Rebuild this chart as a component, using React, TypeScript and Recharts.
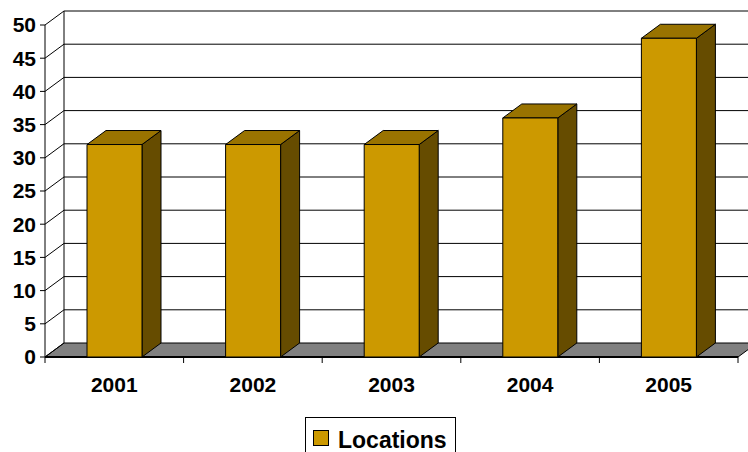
import { BarChart, Bar, XAxis, YAxis, CartesianGrid, Legend } from 'recharts'

const years = ['2001', '2002', '2003', '2004', '2005']
const locations = [32, 32, 32, 36, 48]
const yTicks = [0, 5, 10, 15, 20, 25, 30, 35, 40, 45, 50]

const data = years.map((year, i) => ({ year, locations: locations[i] }))

const FONT = '"Liberation Sans", Arial, sans-serif'
// 3D depth offset of the back wall
const DX = 19
const DY = -14

const FRONT = '#CC9900'
const TOP = '#997300'
const SIDE = '#664C00'

// Box shaped bar: front face, top and right side
const Bar3D = (props: any) => {
  const { x, y, width, height } = props
  if (height == null || width == null) return null
  return (
    <g stroke="#000" strokeWidth={1} strokeLinejoin="round">
      <polygon
        points={`${x + width},${y} ${x + width + DX},${y + DY} ${x + width + DX},${y + height + DY} ${x + width},${y + height}`}
        fill={SIDE}
      />
      <polygon
        points={`${x},${y} ${x + DX},${y + DY} ${x + width + DX},${y + DY} ${x + width},${y}`}
        fill={TOP}
      />
      <rect x={x} y={y} width={width} height={height} fill={FRONT} />
    </g>
  )
}

// Grid lines drawn on the back wall, with the floor at the bottom one
const GridLine3D = (props: any) => {
  const { x1, x2, y1, index, horizontalPoints } = props
  const pts: number[] = horizontalPoints || [y1]
  const bottom = Math.max(...pts)
  const top = Math.min(...pts)
  const isFloor = y1 === bottom
  const n = years.length
  return (
    <g key={`g-${index}`}>
      {isFloor && (
        <g>
          <line x1={x1 + DX} y1={top + DY} x2={x1 + DX} y2={bottom + DY} stroke="#000" strokeWidth={1} />
          <polygon
            points={`${x1},${y1} ${x2},${y1} ${x2 + DX},${y1 + DY} ${x1 + DX},${y1 + DY}`}
            fill="#808080"
            stroke="#000"
            strokeWidth={1}
          />
          <line x1={x1} y1={y1} x2={x2} y2={y1} stroke="#000" strokeWidth={2} />
          {Array.from({ length: n + 1 }, (_, i) => {
            const tx = x1 + (i * (x2 - x1)) / n
            return <line key={i} x1={tx} y1={y1} x2={tx} y2={y1 + 6} stroke="#000" strokeWidth={1} />
          })}
        </g>
      )}
      {!isFloor && (
        <line x1={x1 + DX} y1={y1 + DY} x2={x2 + DX} y2={y1 + DY} stroke="#000" strokeWidth={1} />
      )}
      <line x1={x1} y1={y1} x2={x1 + DX} y2={y1 + DY} stroke="#000" strokeWidth={1} />
    </g>
  )
}

const LegendBox = () => (
  <div
    style={{
      border: '1px solid #000',
      background: '#fff',
      height: 40,
      boxSizing: 'border-box',
      display: 'flex',
      alignItems: 'flex-start',
      paddingLeft: 7,
      paddingRight: 7,
      paddingTop: 12,
      fontFamily: FONT,
      fontWeight: 'bold',
      fontSize: 23,
      lineHeight: '18px',
    }}
  >
    <span
      style={{
        display: 'inline-block',
        width: 16,
        height: 16,
        boxSizing: 'border-box',
        background: FRONT,
        border: '1px solid #000',
        marginRight: 9,
      }}
    />
    <span style={{ color: '#000', position: 'relative', top: 1 }}>Locations</span>
  </div>
)

export default function App() {
  return (
    <div style={{ position: 'absolute', left: 0, top: 0, width: 748, height: 452, background: '#fff' }}>
      <BarChart
        width={748}
        height={452}
        data={data}
        margin={{ top: 25, right: 10, left: 0, bottom: 55 }}
        style={{ fontFamily: FONT }}
      >
        <CartesianGrid vertical={false} horizontal={GridLine3D} />
        <XAxis
          dataKey="year"
          axisLine={false}
          tickLine={false}
          tickSize={0}
          tickMargin={20}
          height={40}
          tick={{ fill: '#000', fontSize: 21, fontWeight: 'bold', fontFamily: FONT }}
        />
        <YAxis
          domain={[0, 50]}
          ticks={yTicks}
          width={45}
          axisLine={{ stroke: '#000' }}
          tickLine={{ stroke: '#000' }}
          tickSize={5}
          tickMargin={4}
          interval={0}
          tick={{ fill: '#000', fontSize: 21, fontWeight: 'bold', fontFamily: FONT }}
        />
        <Legend
          layout="horizontal"
          verticalAlign="middle"
          align="center"
          wrapperStyle={{ left: 305, top: 417, width: 151 }}
          content={<LegendBox />}
        />
        <Bar dataKey="locations" name="Locations" barSize={55} shape={Bar3D} isAnimationActive={false} />
      </BarChart>
    </div>
  )
}
